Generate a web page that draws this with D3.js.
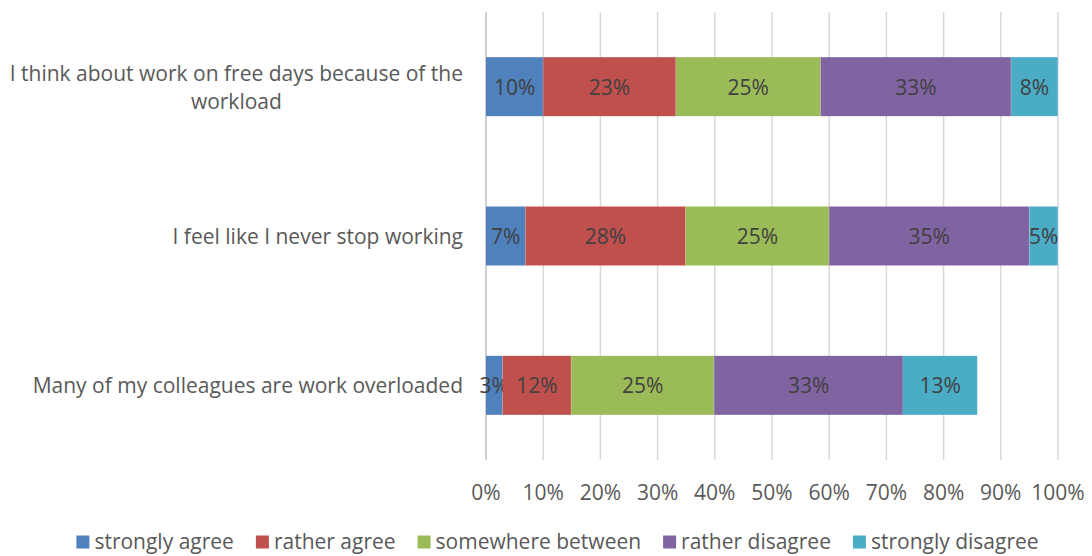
<!DOCTYPE html>
<html>
<head>
<meta charset="utf-8">
<script src="https://cdn.jsdelivr.net/npm/d3@7"></script>
<style>
  html, body { margin: 0; padding: 0; background: #fff; }
  svg { display: block; font-family: "Open Sans", Lato, sans-serif; }
</style>
</head>
<body>
<svg id="chart" width="1092" height="556"></svg>
<script>
// Survey statements, top to bottom
const categories = [
  "I think about work on free days because of the workload",
  "I feel like I never stop working",
  "Many of my colleagues are work overloaded"
];
// Wrapped display lines for each statement
const categoryLines = [
  ["I think about work on free days because of the", "workload"],
  ["I feel like I never stop working"],
  ["Many of my colleagues are work overloaded"]
];
// Answer options (stack order, left to right)
const seriesNames = ["strongly agree", "rather agree", "somewhere between", "rather disagree", "strongly disagree"];
// Share of answers (%) per statement, one array per answer option
const stronglyAgree     = [10.0, 6.9, 2.9];
const ratherAgree       = [23.2, 28.0, 12.0];
const somewhereBetween  = [25.3, 25.1, 25.0];
const ratherDisagree    = [33.3, 35.0, 33.0];
const stronglyDisagree  = [8.2, 5.0, 13.0];
const tickValues = [0, 10, 20, 30, 40, 50, 60, 70, 80, 90, 100];
const colors = ["#4F81BD", "#C0504D", "#9BBB59", "#8064A2", "#4BACC6"];

const seriesValues = [stronglyAgree, ratherAgree, somewhereBetween, ratherDisagree, stronglyDisagree];
const rows = categories.map((c, i) => {
  const r = { category: c };
  seriesNames.forEach((s, k) => { r[s] = seriesValues[k][i]; });
  return r;
});

const svg = d3.select("#chart");
const plot = { left: 486, right: 1058, top: 12, bottom: 460 };
const fontSize = "21px";

const x = d3.scaleLinear().domain([0, 100]).range([plot.left, plot.right]);
const y = d3.scaleBand().domain(categories).range([plot.top, plot.bottom])
  .paddingInner(0.605).paddingOuter(0.3025);

// Vertical gridlines
svg.append("g").selectAll("line").data(tickValues).join("line")
  .attr("x1", d => x(d)).attr("x2", d => x(d))
  .attr("y1", plot.top).attr("y2", plot.bottom)
  .attr("stroke", d => d === 0 ? "#d0d0d0" : "#d9d9d9")
  .attr("stroke-width", d => d === 0 ? 2 : 1.5);

// Stacked bars
const stack = d3.stack().keys(seriesNames);
const layers = stack(rows);

const layerG = svg.append("g").selectAll("g").data(layers).join("g")
  .attr("fill", (d, i) => colors[i]);

layerG.selectAll("rect").data(d => d).join("rect")
  .attr("x", d => x(d[0]))
  .attr("y", d => y(d.data.category))
  .attr("width", d => x(d[1]) - x(d[0]))
  .attr("height", y.bandwidth());

// Thin white separators between segments
layerG.selectAll("line.sep").data(d => d).join("line")
  .attr("class", "sep")
  .attr("x1", d => x(d[1])).attr("x2", d => x(d[1]))
  .attr("y1", d => y(d.data.category)).attr("y2", d => y(d.data.category) + y.bandwidth())
  .attr("stroke", "#ffffff").attr("stroke-opacity", 0.35).attr("stroke-width", 1);

// Data labels
layerG.selectAll("text").data(d => d).join("text")
  .attr("x", d => (x(d[0]) + x(d[1])) / 2)
  .attr("y", d => y(d.data.category) + y.bandwidth() / 2)
  .attr("text-anchor", "middle")
  .attr("dominant-baseline", "central")
  .attr("fill", "#404040")
  .style("font-size", fontSize)
  .text(d => d3.format(".0f")(d[1] - d[0]) + "%");

// Category labels (multi-line, centred within their block, block right-aligned)
const labelRight = 463;
const catG = svg.append("g");
categories.forEach((c, i) => {
  const lines = categoryLines[i];
  const g = catG.append("g");
  const cy = y(c) + y.bandwidth() / 2;
  const lh = 28;
  const texts = g.selectAll("text").data(lines).join("text")
    .attr("y", (d, j) => cy + (j - (lines.length - 1) / 2) * lh)
    .attr("dominant-baseline", "central")
    .attr("text-anchor", "middle")
    .attr("fill", "#595959")
    .style("font-size", fontSize)
    .text(d => d);
  let w = 0;
  texts.each(function () { w = Math.max(w, this.getComputedTextLength()); });
  texts.attr("x", labelRight - w / 2);
});

// X axis tick labels
svg.append("g").selectAll("text").data(tickValues).join("text")
  .attr("x", d => x(d))
  .attr("y", 492)
  .attr("text-anchor", "middle")
  .attr("dominant-baseline", "central")
  .attr("fill", "#595959")
  .style("font-size", fontSize)
  .text(d => d + "%");

// Legend
const legendY = 541;
const legend = svg.append("g");
const legendItems = legend.selectAll("g").data(seriesNames).join("g");
legendItems.append("rect")
  .attr("width", 13).attr("height", 13)
  .attr("y", legendY - 5.5)
  .attr("fill", (d, i) => colors[i]);
legendItems.append("text")
  .attr("x", 18)
  .attr("y", legendY)
  .attr("dominant-baseline", "central")
  .attr("fill", "#595959")
  .style("font-size", fontSize)
  .text(d => d);
let offsets = [], cursor = 0;
const gap = 22;
legendItems.each(function () {
  const tw = d3.select(this).select("text").node().getComputedTextLength();
  offsets.push(cursor);
  cursor += 18 + tw + gap;
});
const total = cursor - gap;
const start = 557.5 - total / 2;
legendItems.attr("transform", (d, i) => `translate(${start + offsets[i]},0)`);
</script>
</body>
</html>
